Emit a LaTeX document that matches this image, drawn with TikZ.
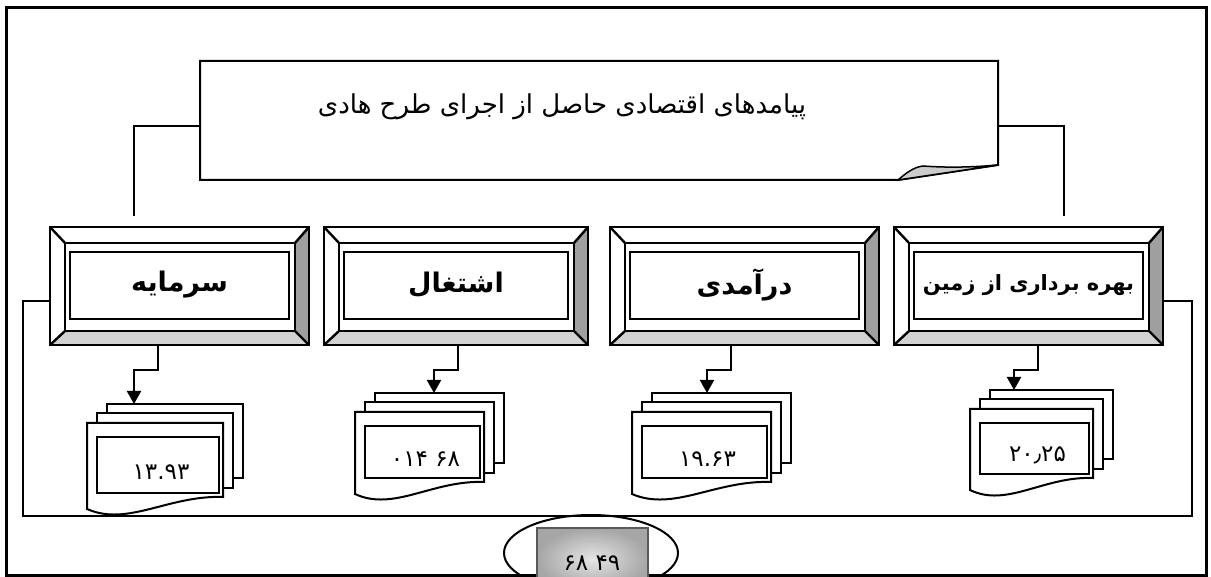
\documentclass[tikz,border=0pt]{standalone}
\usepackage{fontspec}
\TeXXeTstate=1
\newfontfamily\farsi[Script=Arabic]{DejaVu Sans}
\usetikzlibrary{calc,shapes.geometric,arrows.meta,positioning}

\tikzset{
  frame/.style={line width=3pt},
  link/.style={line width=2pt},
  pointer/.style={link, -{Triangle[length=13pt,width=14pt]}},
  bevelline/.style={line width=2.4pt},
  pageline/.style={line width=2pt, fill=white},
  fold/.style={line width=1.5pt, fill=gray!40},
  numfont/.style={font=\farsi\fontsize{23}{27}\selectfont},
}

\newcommand{\bevelbox}[8]{%
  \fill[white] (#2,#3) rectangle (#4,#5);
  \fill[gray!75] (#4,#3) -- ($(#4,#3)+(-14,16)$) -- ($(#4,#5)+(-14,-14)$) -- (#4,#5) -- cycle;
  \fill[gray!35] (#2,#5) -- ($(#2,#5)+(15,-14)$) -- ($(#4,#5)+(-14,-14)$) -- (#4,#5) -- cycle;
  \draw[bevelline] (#2,#3) rectangle (#4,#5);
  \draw[bevelline] ($(#2,#3)+(15,16)$) rectangle ($(#4,#5)+(-14,-14)$);
  \draw[bevelline] (#2,#3) -- ++(15,16) (#4,#3) -- ++(-14,16) (#2,#5) -- ++(15,-14) (#4,#5) -- ++(-14,-14);
  \draw[bevelline] ($(#2,#3)+(20,25)$) rectangle ($(#4,#5)+(-20,-26)$);
  \node[font=\farsi\bfseries\fontsize{#7}{#7}\selectfont] (#1) at ($(#2,#3)!0.5!(#4,#5)+(0,-1)$) {\beginR #8\endR};
  \coordinate (#1-w) at (#2,301);
  \coordinate (#1-e) at (#4,301);
  \coordinate (#1-s) at (#6,#5);
}

\newcommand{\docstack}[7]{%
  \draw[pageline] ($(#2,#3)+(20,-19)$) rectangle ++(#4,#5);
  \draw[pageline] ($(#2,#3)+(10,-9.5)$) rectangle ++(#4,#5);
  \draw[pageline] (#2,#3) -- ($(#2,#3)+(#4,0)$) -- ($(#2,#3)+(#4,#5)$)
    .. controls ($(#2,#3)+(0.6*#4,#5-2)$) and ($(#2,#3)+(0.3*#4,#5+30)$) .. ($(#2,#3)+(0,#5+12)$) -- cycle;
  \draw[pageline] ($(#2,#3)+(10,14)$) rectangle ($(#2,#3)+(#4-4,#5-4)$);
  \node[numfont] (#1) at ($(#2,#3)+(0.5*#4+6,0.5*#5+12)$) {#7};
  \coordinate (#1-top) at (#6,#3-19);
}

\begin{document}
\begin{tikzpicture}[x=1pt, y=-1pt]
\useasboundingbox (0,0) rectangle (1211,577);
\clip (0,0) rectangle (1211,577);
\draw[frame] (6,8) rectangle (1206,575);

\draw[link, fill=white] (200,61) -- (998,61) -- (998,165) -- (898,180) -- (200,180) -- cycle;
\draw[fold] (898,180) .. controls (906,173) and (914,167) .. (923,166)
  .. controls (950,168) and (975,167) .. (998,165) -- cycle;
\node[font=\farsi\fontsize{26}{31}\selectfont] (heading) at (562,107)
  {\beginR پیامدهای اقتصادی حاصل از اجرای طرح هادی\endR};
\coordinate (heading-w) at (200,126);
\coordinate (heading-e) at (998,126);
\coordinate (capital-up) at (134,216);
\coordinate (land-up) at (1064,216);

\bevelbox{capital}{50}{227}{309}{345}{158}{27}{سرمایه}
\bevelbox{jobs}{324}{227}{588}{345}{458}{27}{اشتغال}
\bevelbox{income}{610}{227}{879}{345}{731}{27}{درآمدی}
\bevelbox{land}{894}{227}{1163}{345}{1038}{21}{بهره برداری از زمین}

\draw[link] (heading-w) -| (capital-up);
\draw[link] (heading-e) -| (land-up);

\node[ellipse, draw, line width=2pt, minimum width=174pt, minimum height=76pt, inner sep=0pt] (ring) at (591,553) {};
\shade[inner color=gray!20, outer color=gray!70] (537,528) rectangle (648,590);
\draw[gray!70!black, line width=1.4pt] (537,528) rectangle (648,590);
\node[numfont] (total) at (592,563) {۶۸ ۴۹};

\draw[link] (capital-w) -| (23,516) -- (1192,516) |- (land-e);

\docstack{capitaldoc}{87}{423}{136}{74}{134}{۱۳.۹۳}
\docstack{jobsdoc}{355}{412}{129}{70}{434}{۰۱۴ ۶۸}
\docstack{incomedoc}{632}{412}{139}{70}{707}{۱۹.۶۳}
\docstack{landdoc}{970}{409}{123}{69}{1014}{۲۰٫۲۵}

\foreach \b/\d in {capital/capitaldoc, jobs/jobsdoc, income/incomedoc, land/landdoc}
  \draw[pointer] (\b-s) |- ++(-24,25) -- (\d-top);
\end{tikzpicture}
\end{document}
